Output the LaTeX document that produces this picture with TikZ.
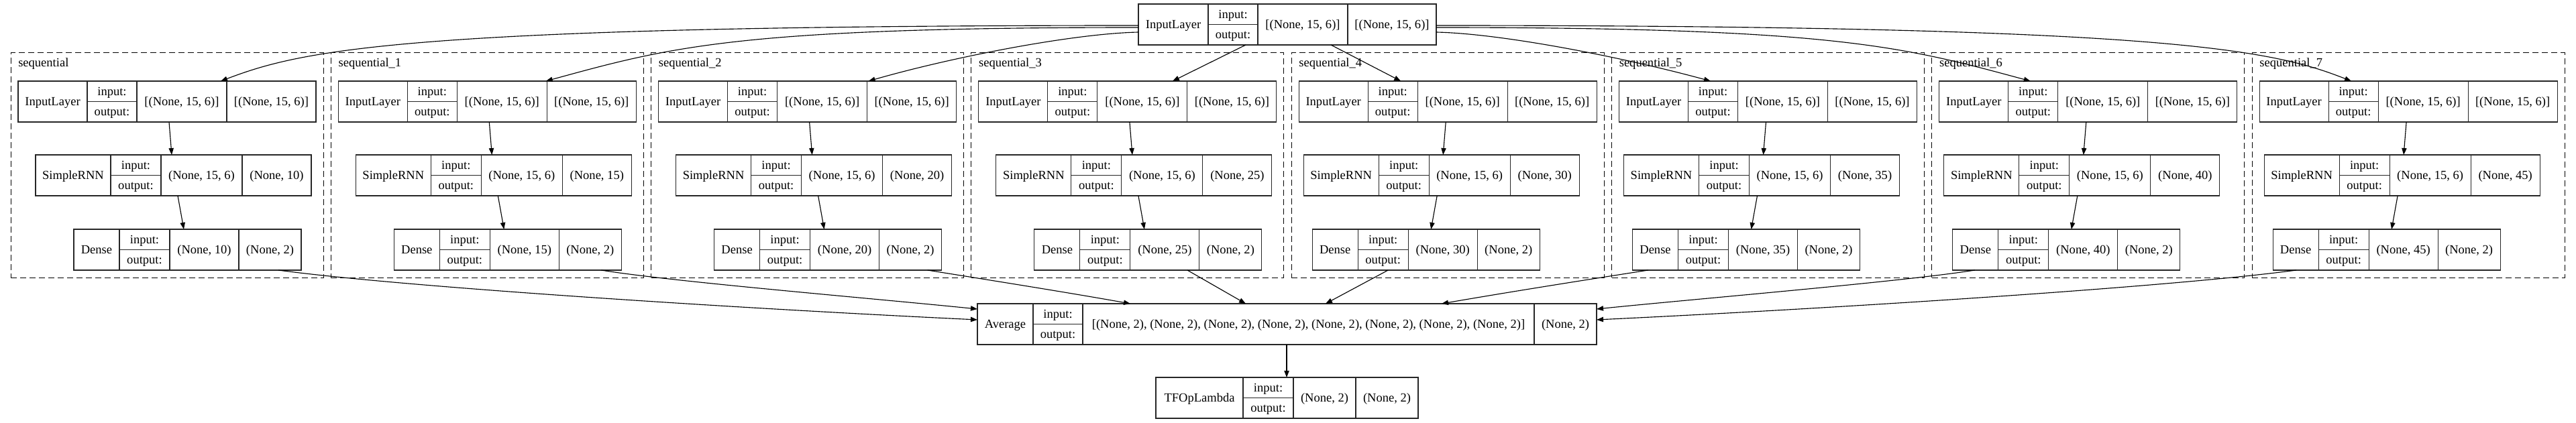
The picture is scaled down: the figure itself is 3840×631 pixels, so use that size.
\documentclass[tikz,border=0pt]{standalone}
\usepackage{fontspec}
\setmainfont{Liberation Serif}
\usetikzlibrary{arrows.meta,calc}
\newcommand\setxs[5]{\pgfmathsetmacro\lxa{#1}\pgfmathsetmacro\lxb{#2}\pgfmathsetmacro\lxc{#3}\pgfmathsetmacro\lxd{#4}\pgfmathsetmacro\lxe{#5}}
\newcommand\layerbox[5]{%
  \pgfmathsetmacro\lbyt{#2}\pgfmathsetmacro\lbyb{#2+61}\pgfmathsetmacro\lbym{#2+30.5}%
  \pgfmathsetmacro\lbw{(\lxe-\lxa)*0.75}%
  \node[lbox, minimum width=\lbw pt, minimum height=45.75pt] (#1) at (\lxa,\lbyt) {};
  \draw[cellline] (\lxb,\lbyt) -- (\lxb,\lbyb) (\lxc,\lbyt) -- (\lxc,\lbyb) (\lxd,\lbyt) -- (\lxd,\lbyb) (\lxb,\lbym) -- (\lxc,\lbym);
  \node[ltext] (#1-l) at ({(\lxa+\lxb)/2},\lbym) {#3};
  \node[ltext] (#1-i) at ({(\lxb+\lxc)/2},{\lbyt+15.25}) {input:};
  \node[ltext] (#1-o) at ({(\lxb+\lxc)/2},{\lbym+15.25}) {output:};
  \node[ltext] (#1-a) at ({(\lxc+\lxd)/2},\lbym) {#4};
  \node[ltext] (#1-b) at ({(\lxd+\lxe)/2},\lbym) {#5};
}
\begin{document}
\begin{tikzpicture}[x=0.75pt,y=-0.75pt,
  lbox/.style={draw=black!85, line width=0.85pt, anchor=north west, inner sep=0pt, outer sep=0pt, fill=white},
  cellline/.style={draw=black!85, line width=0.85pt},
  ltext/.style={inner sep=0pt, font=\fontsize{13.9pt}{16pt}\selectfont, text height=9.1pt, text depth=0pt},
  clusterbox/.style={draw, line width=0.75pt, dash pattern=on 6.75pt off 3.75pt, anchor=north west, inner sep=0pt, outer sep=0pt},
  cltext/.style={ltext, anchor=west},
  edge/.style={line width=0.85pt, -{Triangle[length=7.5pt,width=5.5pt]}},
]
\fill[white] (0,0) rectangle (3840,631);
\useasboundingbox (0,0) rectangle (3840,631);

% clusters
\foreach \k in {0,...,7}{
  \pgfmathsetmacro\cl{16+477.3*\k}
  \node[clusterbox, minimum width=349.5pt, minimum height=251.25pt] (s\k) at (\cl,79) {};
  \node[cltext] (s\k-t) at (\cl+11,93) {\ifnum\k=0 sequential\else sequential\_\k\fi};
}

% top input layer
\setxs{1697}{1801}{1875}{2009}{2141}
\layerbox{inp}{6}{InputLayer}{[(None, 15, 6)]}{[(None, 15, 6)]}

% cluster contents
\foreach \k in {0,...,7}{
  \pgfmathsetmacro\L{27+477.3*\k}
  \pgfmathtruncatemacro\u{10+5*\k}
  \setxs{\L}{\L+103}{\L+177}{\L+311}{\L+444}
  \layerbox{c\k-il}{121}{InputLayer}{[(None, 15, 6)]}{[(None, 15, 6)]}
  \ifnum\k<4
    \setxs{\L+26}{\L+138}{\L+213}{\L+334}{\L+437}
    \layerbox{c\k-rnn}{231}{SimpleRNN}{(None, 15, 6)}{(None, \u)}
    \setxs{\L+83}{\L+151}{\L+226}{\L+329}{\L+422}
    \layerbox{c\k-dense}{342}{Dense}{(None, \u)}{(None, 2)}
    \draw[edge] ($(c\k-il.south west)+(225,0)$) -- ($(c\k-rnn.north west)+(203,0)$);
    \draw[edge] ($(c\k-rnn.south west)+(212,0)$) -- ($(c\k-dense.north west)+(164,0)$);
  \else
    \setxs{\L+7}{\L+119}{\L+194}{\L+315}{\L+418}
    \layerbox{c\k-rnn}{231}{SimpleRNN}{(None, 15, 6)}{(None, \u)}
    \setxs{\L+20}{\L+88}{\L+163}{\L+266}{\L+359}
    \layerbox{c\k-dense}{342}{Dense}{(None, \u)}{(None, 2)}
    \draw[edge] ($(c\k-il.south west)+(219,0)$) -- ($(c\k-rnn.north west)+(208,0)$);
    \draw[edge] ($(c\k-rnn.south west)+(199,0)$) -- ($(c\k-dense.north west)+(177,0)$);
  \fi
}

% average and TFOpLambda
\setxs{1457}{1540}{1614}{2287}{2380}
\layerbox{avg}{453}{Average}{[(None, 2), (None, 2), (None, 2), (None, 2), (None, 2), (None, 2), (None, 2), (None, 2)]}{(None, 2)}
\setxs{1723}{1853}{1928}{2021}{2114}
\layerbox{tfop}{563}{TFOpLambda}{(None, 2)}{(None, 2)}

% edges from top input layer
\draw[edge] ($(inp.north west)+(0,32)$) .. controls (600,38) and (450,75) .. ($(c0-il.north west)+(302,0)$);
\draw[edge] ($(inp.north west)+(0,35)$) .. controls (1100,41) and (1000,70) .. ($(c1-il.north west)+(309.4,0)$);
\draw[edge] ($(inp.north west)+(0,42)$) .. controls (1600,50) and (1420,85) .. ($(c2-il.north west)+(313,0)$);
\draw[edge] ($(inp.south west)+(160,0)$) -- ($(c3-il.north west)+(289,0)$);
\draw[edge] ($(inp.south west)+(287,0)$) -- ($(c4-il.north west)+(152,0)$);
\draw[edge] ($(inp.north east)+(0,42)$) .. controls (2238,50) and (2418,85) .. ($(c5-il.north west)+(136.5,0)$);
\draw[edge] ($(inp.north east)+(0,35)$) .. controls (2738,41) and (2838,70) .. ($(c6-il.north west)+(136,0)$);
\draw[edge] ($(inp.north east)+(0,32)$) .. controls (3238,38) and (3388,75) .. ($(c7-il.north west)+(137,0)$);

% edges into average
\draw[edge] ($(c0-dense.south west)+(305,0)$) .. controls (600,428) and (1100,460) .. ($(avg.north west)+(0,24)$);
\draw[edge] ($(c1-dense.south west)+(309,0)$) .. controls (1000,420) and (1300,445) .. ($(avg.north west)+(0,8)$);
\draw[edge] ($(c2-dense.south west)+(318,0)$) .. controls (1470,417) and (1590,436) .. ($(avg.north west)+(228,0)$);
\draw[edge] ($(c3-dense.south west)+(228,0)$) -- ($(avg.north west)+(400,0)$);
\draw[edge] ($(c4-dense.south west)+(113,0)$) -- ($(avg.north west)+(519,0)$);
\draw[edge] ($(c5-dense.south west)+(23.5,0)$) .. controls (2367,417) and (2247,436) .. ($(avg.north west)+(692,0)$);
\draw[edge] ($(c6-dense.south west)+(33,0)$) .. controls (2837,420) and (2537,445) .. ($(avg.north east)+(0,8)$);
\draw[edge] ($(c7-dense.south west)+(35,0)$) .. controls (3237,428) and (2737,460) .. ($(avg.north east)+(0,24)$);

% average to TFOpLambda
\draw[edge] ($(avg.south west)+(461,0)$) -- ($(tfop.north west)+(195,0)$);
\end{tikzpicture}
\end{document}
